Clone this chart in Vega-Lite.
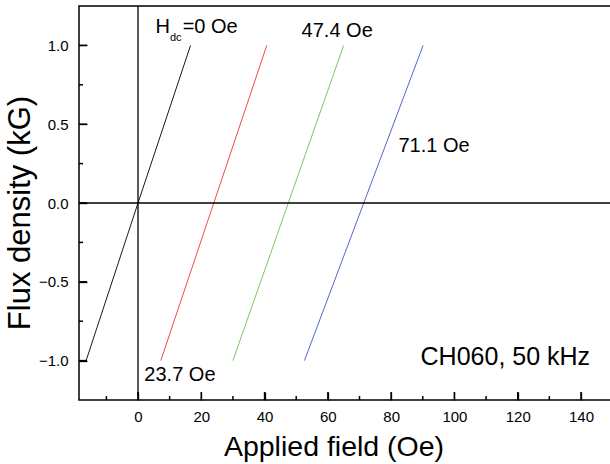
{
  "$schema": "https://vega.github.io/schema/vega-lite/v6.json",
  "width": 533,
  "height": 394,
  "autosize": {"type": "none"},
  "padding": {"left": 79, "top": 6, "right": 0, "bottom": 64},
  "background": "white",
  "config": {
    "view": {"stroke": "black", "strokeWidth": 1.5, "fill": null},
    "font": "Liberation Sans",
    "scale": {"continuousPadding": 0},
    "axis": {"grid": false, "zindex": 1, "domainColor": "black", "domainWidth": 1.5, "tickColor": "black", "tickWidth": 1.3, "labelColor": "black", "titleColor": "black", "labelFont": "Liberation Sans", "titleFont": "Liberation Sans", "titleFontWeight": "normal"}
  },
  "datasets": {
    "curves": [
      {"series": "0", "H": -16.4, "B": -1.0},
      {"series": "0", "H": 0.0, "B": 0.0},
      {"series": "0", "H": 16.6, "B": 1.0},
      {"series": "23.7", "H": 7.2, "B": -1.0},
      {"series": "23.7", "H": 40.7, "B": 1.0},
      {"series": "47.4", "H": 30.0, "B": -1.0},
      {"series": "47.4", "H": 65.0, "B": 1.0},
      {"series": "71.1", "H": 52.6, "B": -1.0},
      {"series": "71.1", "H": 90.1, "B": 1.0}
    ],
    "xmajor": [{"t": 0}, {"t": 20}, {"t": 40}, {"t": 60}, {"t": 80}, {"t": 100}, {"t": 120}, {"t": 140}],
    "xminor": [{"t": -10}, {"t": 10}, {"t": 30}, {"t": 50}, {"t": 70}, {"t": 90}, {"t": 110}, {"t": 130}],
    "ymajor": [{"t": -1.0}, {"t": -0.5}, {"t": 0.0}, {"t": 0.5}, {"t": 1.0}],
    "yminor": [{"t": -0.75}, {"t": -0.25}, {"t": 0.25}, {"t": 0.75}]
  },
  "resolve": {"axis": {"x": "independent", "y": "independent"}},
  "layer": [
    {
      "data": {"name": "curves"},
      "mark": {"type": "line", "strokeWidth": 1, "clip": true},
      "encoding": {
        "x": {"field": "H", "type": "quantitative", "scale": {"domain": [-18.65, 149.8], "nice": false, "zero": false, "padding": 0},
          "axis": {"orient": "bottom", "offset": -8, "values": [0, 20, 40, 60, 80, 100, 120, 140], "tickSize": 8, "domain": false, "labelFontSize": 15, "labelPadding": 9, "title": null}},
        "y": {"field": "B", "type": "quantitative", "scale": {"domain": [-1.25, 1.25], "nice": false, "zero": false, "padding": 0},
          "axis": {"orient": "left", "offset": -8, "values": [-1.0, -0.5, 0.0, 0.5, 1.0], "format": ".1f", "tickSize": 8, "domain": false, "labelFontSize": 15, "labelPadding": 11, "title": null}},
        "color": {"field": "series", "type": "nominal", "scale": {"domain": ["0", "23.7", "47.4", "71.1"], "range": ["#1a1a1a", "#f04a4a", "#78c860", "#5566c4"]}, "legend": null}
      }
    },
    {
      "data": {"values": [{"v": 0}]},
      "mark": {"type": "rule", "color": "black", "strokeWidth": 1.3},
      "encoding": {
        "x": {"field": "v", "type": "quantitative", "axis": null}
      }
    },
    {
      "data": {"values": [{"v": 0}]},
      "mark": {"type": "rule", "color": "black", "strokeWidth": 1.3},
      "encoding": {
        "y": {"field": "v", "type": "quantitative", "axis": null}
      }
    },
    {
      "data": {"name": "xmajor"},
      "mark": {"type": "bar", "color": "black", "width": 1.5, "orient": "vertical"},
      "encoding": {
        "x": {"field": "t", "type": "quantitative", "axis": null, "scale": {"domain": [-18.65, 149.8], "nice": false, "zero": false, "padding": 0}},
        "y": {"datum": -1.25, "type": "quantitative", "axis": null, "scale": {"domain": [-1.25, 1.25], "nice": false, "zero": false, "padding": 0}},
        "y2": {"datum": -1.199}
      }
    },
    {
      "data": {"name": "xminor"},
      "mark": {"type": "bar", "color": "black", "width": 1.5, "orient": "vertical"},
      "encoding": {
        "x": {"field": "t", "type": "quantitative", "axis": null, "scale": {"domain": [-18.65, 149.8], "nice": false, "zero": false, "padding": 0}},
        "y": {"datum": -1.25, "type": "quantitative", "axis": null, "scale": {"domain": [-1.25, 1.25], "nice": false, "zero": false, "padding": 0}},
        "y2": {"datum": -1.2245}
      }
    },
    {
      "data": {"name": "ymajor"},
      "mark": {"type": "bar", "color": "black", "height": 1.5, "orient": "horizontal"},
      "encoding": {
        "y": {"field": "t", "type": "quantitative", "axis": null, "scale": {"domain": [-1.25, 1.25], "nice": false, "zero": false, "padding": 0}},
        "x": {"datum": -18.65, "type": "quantitative", "axis": null, "scale": {"domain": [-18.65, 149.8], "nice": false, "zero": false, "padding": 0}},
        "x2": {"datum": -16.12}
      }
    },
    {
      "data": {"name": "yminor"},
      "mark": {"type": "bar", "color": "black", "height": 1.5, "orient": "horizontal"},
      "encoding": {
        "y": {"field": "t", "type": "quantitative", "axis": null, "scale": {"domain": [-1.25, 1.25], "nice": false, "zero": false, "padding": 0}},
        "x": {"datum": -18.65, "type": "quantitative", "axis": null, "scale": {"domain": [-18.65, 149.8], "nice": false, "zero": false, "padding": 0}},
        "x2": {"datum": -17.39}
      }
    },
    {
      "data": {"values": [
        {"label": "H", "x": 5.5, "y": 1.076},
        {"label": "=0 Oe", "x": 14.1, "y": 1.076},
        {"label": "47.4 Oe", "x": 51.7, "y": 1.052},
        {"label": "71.1 Oe", "x": 82.3, "y": 0.324},
        {"label": "23.7 Oe", "x": 2.0, "y": -1.127}
      ]},
      "mark": {"type": "text", "align": "left", "baseline": "alphabetic", "fontSize": 20, "color": "black"},
      "encoding": {
        "x": {"field": "x", "type": "quantitative",
          "axis": {"orient": "bottom", "ticks": false, "labels": false, "domain": false, "title": "Applied field (Oe)", "titleFontSize": 28.5, "titleX": 254.5, "titleY": 55, "titleBaseline": "alphabetic", "titleAlign": "center"}},
        "y": {"field": "y", "type": "quantitative",
          "axis": {"orient": "left", "ticks": false, "labels": false, "domain": false, "title": "Flux density (kG)", "titleFontSize": 31, "titleX": -50, "titleY": 206.5, "titleBaseline": "alphabetic", "titleAlign": "center", "titleAngle": -90}},
        "text": {"field": "label"}
      }
    },
    {
      "data": {"values": [{"label": "dc", "x": 10.1, "y": 1.031}]},
      "mark": {"type": "text", "align": "left", "baseline": "alphabetic", "fontSize": 11, "color": "black"},
      "encoding": {
        "x": {"field": "x", "type": "quantitative", "axis": null},
        "y": {"field": "y", "type": "quantitative", "axis": null},
        "text": {"field": "label"}
      }
    },
    {
      "data": {"values": [{"label": "CH060, 50 kHz", "x": 89.3, "y": -1.027}]},
      "mark": {"type": "text", "align": "left", "baseline": "alphabetic", "fontSize": 25, "color": "black"},
      "encoding": {
        "x": {"field": "x", "type": "quantitative", "axis": null},
        "y": {"field": "y", "type": "quantitative", "axis": null},
        "text": {"field": "label"}
      }
    }
  ]
}
